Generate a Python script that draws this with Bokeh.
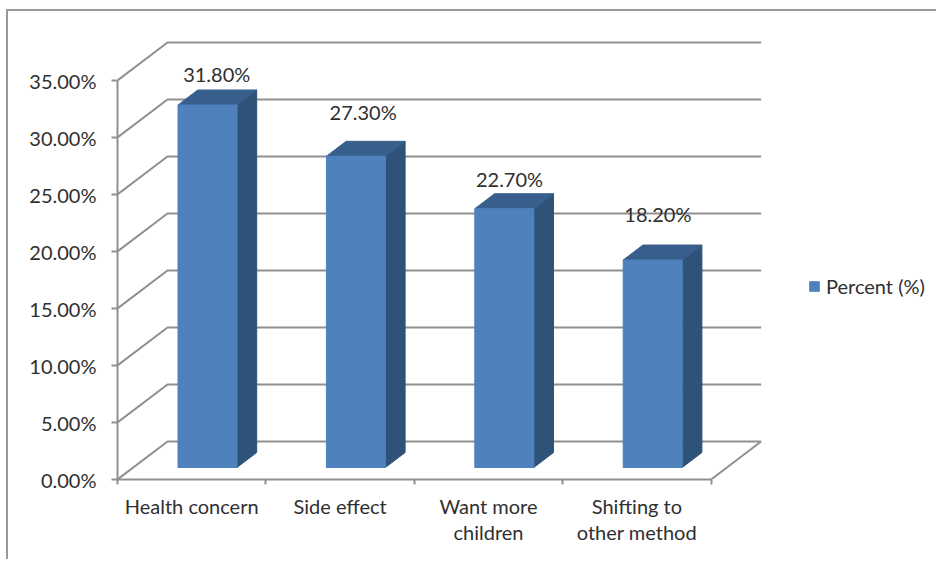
from bokeh.plotting import figure
from bokeh.models import (Range1d, LinearAxis, FixedTicker, PrintfTickFormatter, ColumnDataSource,
                          Legend, LegendItem)
from bokeh.embed import file_html
from bokeh.resources import INLINE
from bokeh.core.properties import value

categories = ["Health concern", "Side effect", "Want more\nchildren", "Shifting to\nother method"]
percent = [31.8, 27.3, 22.7, 18.2]
y_ticks = [0, 5, 10, 15, 20, 25, 30, 35]
series_name = "Percent (%)"

FONT = "Lato"
FS = "20px"
TXT = "#2f2f2f"
GRID = "#8f8f8f"
FRONT, SIDE, TOP = "#4f81bd", "#2f5279", "#385f8c"

PX_X, PX_Y = 148.4, 11.4                 # pixels per category / per percent point
DEPTH_X, DEPTH_Y = 50 / PX_X, 38 / PX_Y  # oblique offset of the back wall, data units
BAR_W = 59 / PX_X
BAR_D0, BAR_D1 = 0.316, 0.71             # bar depth span inside the floor
W, H = 930, 550
L, R, T, B = 109, 0, 23, 82

def proj(x, y, d):
    return x + d * DEPTH_X, y + d * DEPTH_Y

p = figure(width=W, height=H, output_backend="svg", toolbar_location=None,
           x_range=Range1d(0, (W - L - R) / PX_X), y_range=Range1d(0, (H - T - B) / PX_Y),
           x_axis_location=None, y_axis_location=None,
           min_border_left=L, min_border_right=R, min_border_top=T, min_border_bottom=B,
           styles={"margin-left": "6px", "margin-top": "9px",
                   "border-left": "2px solid #9a9a9a", "border-top": "2px solid #9a9a9a"})
p.grid.visible = False
p.outline_line_color = None
p.background_fill_color = "white"

# wall and floor lines
n = len(categories)
xs, ys = [], []
for t in y_ticks:
    bx, by = proj(0, t, 1)
    ex, ey = proj(n, t, 1)
    xs.append([0, bx, ex]); ys.append([t, by, ey])
fx, fy = proj(n, 0, 1)
xs.append([n, fx]); ys.append([0, fy])
p.multi_line(xs, ys, line_color=GRID, line_width=2)

# axes
ya = LinearAxis(ticker=FixedTicker(ticks=y_ticks), formatter=PrintfTickFormatter(format="%.2f%%"),
                bounds=(0, 35))
ya.axis_line_color = GRID; ya.axis_line_width = 2
ya.major_tick_line_color = GRID; ya.major_tick_line_width = 2
ya.major_tick_out = 6; ya.major_tick_in = 0; ya.minor_tick_line_color = None
ya.major_label_standoff = 15
ya.major_label_text_font = FONT; ya.major_label_text_font_size = FS; ya.major_label_text_color = TXT
p.add_layout(ya, "left")

centres = [i + 0.5 for i in range(n)]
xa = LinearAxis(ticker=FixedTicker(ticks=centres, minor_ticks=list(range(n + 1))), bounds=(0, n))
xa.major_label_overrides = {c: lab for c, lab in zip(centres, categories)}
xa.axis_line_color = GRID; xa.axis_line_width = 2
xa.major_tick_line_color = None; xa.major_tick_out = 6
xa.minor_tick_line_color = GRID; xa.minor_tick_line_width = 2; xa.minor_tick_out = 5; xa.minor_tick_in = 0
xa.major_label_standoff = 8
xa.major_label_text_font = FONT; xa.major_label_text_font_size = FS; xa.major_label_text_color = TXT
xa.major_label_text_line_height = 1.1
p.add_layout(xa, "below")

# bars: side, top, front faces
side_x, side_y, top_x, top_y, front_x, front_y = [], [], [], [], [], []
for c, v in zip(centres, percent):
    l, r = c - BAR_W / 2, c + BAR_W / 2
    f = [proj(l, 0, BAR_D0), proj(r, 0, BAR_D0), proj(r, v, BAR_D0), proj(l, v, BAR_D0)]
    s = [proj(r, 0, BAR_D0), proj(r, 0, BAR_D1), proj(r, v, BAR_D1), proj(r, v, BAR_D0)]
    t = [proj(l, v, BAR_D0), proj(r, v, BAR_D0), proj(r, v, BAR_D1), proj(l, v, BAR_D1)]
    front_x.append([q[0] for q in f]); front_y.append([q[1] for q in f])
    side_x.append([q[0] for q in s]); side_y.append([q[1] for q in s])
    top_x.append([q[0] for q in t]); top_y.append([q[1] for q in t])
p.patches(side_x, side_y, fill_color=SIDE, line_color=SIDE, line_width=1)
p.patches(top_x, top_y, fill_color=TOP, line_color=TOP, line_width=1)
front = p.patches(front_x, front_y, fill_color=FRONT, line_color=FRONT, line_width=1)

# data labels
label_lift = [16, 29, 15, 31]   # screen px above the bar's back edge
label_shift = [0, -2, -4, -4]   # screen px sideways
lx, ly = [], []
for c, v in zip(centres, percent):
    a, _ = proj(c, v, 0.5)
    _, b = proj(c, v, BAR_D1)
    lx.append(a); ly.append(b)
src = ColumnDataSource(dict(x=lx, y=ly, text=[f"{v:.2f}%" for v in percent],
                            dx=label_shift, dy=[-d for d in label_lift]))
p.text("x", "y", text="text", source=src, x_offset="dx", y_offset="dy", text_align="center",
       text_baseline="middle", text_font=value(FONT), text_font_size=FS, text_color=TXT)

# legend
leg = Legend(items=[LegendItem(label=series_name, renderers=[front])], location=(691, 181),
             border_line_color=None, background_fill_alpha=0, glyph_width=12, glyph_height=12,
             label_text_font=FONT, label_text_font_size=FS, label_text_color=TXT,
             padding=0, margin=0, spacing=0, label_standoff=6)
p.add_layout(leg, "center")

open("out.html", "w").write(file_html(p, INLINE))
